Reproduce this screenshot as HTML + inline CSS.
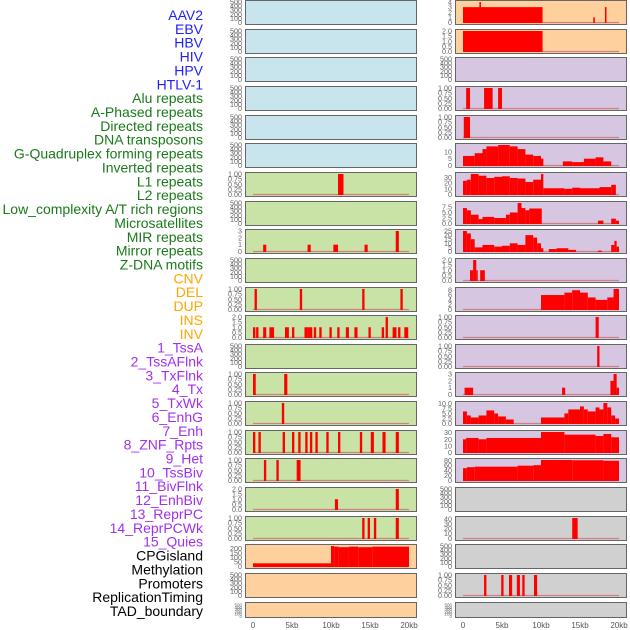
<!DOCTYPE html>
<html><head><meta charset="utf-8"><style>
body{margin:0;background:#fff;width:630px;height:630px;overflow:hidden}
svg{display:block}
text{font-family:"Liberation Sans",sans-serif}
</style></head><body>
<svg id="chart" width="630" height="630" xmlns="http://www.w3.org/2000/svg"></svg>
<script>
const labels=["AAV2","EBV","HBV","HIV","HPV","HTLV-1","Alu repeats","A-Phased repeats","Directed repeats","DNA transposons","G-Quadruplex forming repeats","Inverted repeats","L1 repeats","L2 repeats","Low_complexity A/T rich regions","Microsatellites","MIR repeats","Mirror repeats","Z-DNA motifs","CNV","DEL","DUP","INS","INV","1_TssA","2_TssAFlnk","3_TxFlnk","4_Tx","5_TxWk","6_EnhG","7_Enh","8_ZNF_Rpts","9_Het","10_TssBiv","11_BivFlnk","12_EnhBiv","13_ReprPC","14_ReprPCWk","15_Quies","CPGisland","Methylation","Promoters","ReplicationTiming","TAD_boundary"];
const labelGroups=[6,13,5,15,5];
const groupColors=["#1f1fff","#1a7a1a","#ffa500","#a030f0","#000000"];
const E=[0,100,200,300,400,500];
const P=[0,0.25,0.5,0.75,1];
const leftTicks=[E,E,E,E,E,E,P,E,[0,1,2,3],E,P,[0,0.5,1,1.5,2],E,P,P,P,P,[0,0.5,1,1.5,2],P,[0,50,100,150,200],E,E];
const leftBars=[[],[],[],[],[],[],
[[10.9,11.6,1]],[],
[[1.3,1.7,1],[7.0,7.4,1],[10.3,10.9,1],[14.3,14.7,1],[18.3,18.7,3]],[],
[[0.2,0.5,1],[6.0,6.3,1],[14.0,14.3,1],[18.9,19.2,1]],
[[0.0,0.3,1],[0.4,0.7,1],[1.3,1.7,1],[2.1,2.7,1],[4.1,4.6,1],[5.0,5.3,1],[6.6,7.0,1],[7.0,7.3,1],[7.3,7.6,1],[7.8,8.1,1],[8.5,8.8,1],[9.8,10.1,1],[10.8,11.1,1],[11.9,12.3,1],[13.0,13.4,1],[14.8,15.1,1],[16.5,16.8,1],[17.0,17.3,2],[17.9,18.4,1],[18.6,18.9,1],[19.4,19.9,1]],
[],
[[0.0,0.35,1],[4.0,4.4,1]],
[[3.7,4.0,1]],
[[0.0,0.3,1],[0.7,1.0,1],[3.8,4.1,1],[5.0,5.3,1],[5.8,6.1,1],[6.7,7.0,1],[7.3,7.6,1],[8.0,8.3,1],[9.4,9.7,1],[10.9,11.2,1],[13.7,14.0,1],[15.1,15.5,1],[16.6,17.0,1],[18.3,18.7,1]],
[[1.4,1.7,1],[3.0,3.3,1],[5.6,6.1,1]],
[[10.5,10.9,1],[18.3,18.7,2]],
[[14.0,14.3,1],[14.7,15.0,1],[15.5,15.8,1],[18.3,18.7,1]],
[[0,10,35],[10,10.4,225],[10.4,11,218],[11,12.3,212],[12.3,13.5,218],[13.5,15.3,212],[15.3,20,218]],
[],[]];
const rightTicks=[[0,1,2,3,4],[0,0.5,1,1.5,2],E,P,P,[0,5,10],[0,10,20,30],[0,2.5,5,7.5],[0,5,10,15,20,25],[0,0.5,1,1.5,2],[0,2,4,6,8],P,P,[0,1,2,3],[0,2.5,5,7.5,10],[0,10,20,30],[0,20,40,60,80],E,[0,10,20,30,40],E,P,E];
const rightBars=[
[[0,10.2,3],[2.1,2.3,4],[16.7,16.9,1],[18.2,18.4,3]],
[[0,10.2,2]],
[],
[[0.4,0.9,1],[2.7,3.8,1],[4.5,5.0,1]],
[[0.1,0.9,1]],
[[0,1.5,7],[1.5,2.5,9],[2.5,3,12],[3,4.5,14],[4.5,6,15],[6,7,14],[7,8,12],[8,9,8],[9,10,7],[10,10.3,5],[12.8,14,3],[14,15.5,2.5],[15.5,17,5],[17,18,6],[18,19,3]],
[[0,0.5,24],[0.5,1,26],[1,2,36],[2,3,33],[3,4,29],[4,5,31],[5,6,32],[6,7,29],[7,8,28],[8,9,22],[9,10,26],[10,10.3,36],[10.3,13,11],[13,14,10],[14,15,12],[15,17.5,11],[17.5,19,13],[19,19.6,17]],
[[0,0.5,7],[0.5,1,6],[1,2,4],[2,2.5,2],[2.5,4,3],[4,5.5,2.5],[5.5,6,4],[6,7,5],[7,7.5,9.3],[7.5,8,7],[8,8.5,6],[8.5,10.1,6.8],[17.3,18,1.3],[19,19.6,2.2],[19.6,20,1.3]],
[[0,0.5,25],[0.5,1,22],[1,1.5,15],[1.5,2.5,5],[2.5,4,8],[4,5,6],[5,6,7],[6,7,10],[7,8,8],[8,9,20],[9,9.5,17],[9.5,10,10],[10,10.3,4],[11,12,3],[12,13.5,4],[13.5,14.5,2],[17.3,17.8,1],[19,19.4,8],[19.4,19.7,13],[19.7,20,6]],
[[0.9,1.3,1],[1.3,1.7,2],[1.7,1.8,1],[2.2,2.8,1]],
[[10,13,6],[13,14,7],[14,15,8],[15,16,7],[16,17,5],[17,18.5,4],[18.5,19.3,5],[19.3,20,8.5]],
[[17.0,17.4,1]],
[[17.2,17.5,1]],
[[0.2,1.3,1],[12.7,13.1,1],[18.9,19.3,2],[19.3,19.7,3],[19.7,20,1]],
[[0,0.5,6],[0.5,1,4],[1,2,3],[2,3,4],[3,4,6.5],[4,4.5,5],[4.5,5.5,3.5],[5.5,6.5,2],[10,13,3],[13,13.5,5],[13.5,15,7],[15,15.5,8.5],[15.5,16,7],[16,17,6],[17,17.5,8],[17.5,18,7],[18,18.5,10.2],[18.5,19,8],[19,19.5,4],[19.5,20,2.5]],
[[0,0.4,20],[0.4,2,22],[2,3,20],[3,10,22],[10,13,31],[13,17,27],[17,18,25],[18,19,28],[19,20,23]],
[[0,0.5,50],[0.5,1.5,54],[1.5,7,56],[7,9,60],[9,10,62],[10,14,83],[14,18,82],[18,20,80]],
[],
[[14.0,14.7,42]],
[],
[[2.7,3.0,1],[4.9,5.2,1],[5.9,6.3,1],[6.9,7.3,1],[7.6,7.9,1],[9.1,9.5,1]],
[]];
const xTicks=[0,5,10,15,20];
const xTickLabels=["0","5kb","10kb","15kb","20kb"];
const leftColors=[];
for(let i=0;i<22;i++)leftColors.push(i<6?"#c8e4ec":(i<19?"#c9e2a5":"#fed09e"));
const rightColors=[];
for(let i=0;i<22;i++)rightColors.push(i<2?"#fed09e":(i<17?"#d6c6e2":"#d0d0d0"));

const svg=document.getElementById('chart');
const NS="http://www.w3.org/2000/svg";
function mk(tag,attrs,parent){const e=document.createElementNS(NS,tag);for(const k in attrs)e.setAttribute(k,attrs[k]);(parent||svg).appendChild(e);return e;}

let li=0;
labelGroups.forEach((n,g)=>{for(let j=0;j<n;j++){
 const t=mk('text',{x:203,y:15+li*13.86+5,'text-anchor':'end','font-size':'14',fill:groupColors[g]});
 t.textContent=labels[li];
 
 
 li++;}});

function fmt(v,ticks){const dec=ticks.some(t=>t%1!==0&&Math.abs(t*4-Math.round(t*4))<1e-9&&(t*2)%1!==0)?2:(ticks.some(t=>t%1!==0)?1:0);return v.toFixed(dec);}

function drawPanel(px,row,color,ticks,bars,side){
 const top=Math.round(row*28.65);
 const h=row===21?15:24;
 const w=171;
 const g=mk('g',{});
 
 
 mk('rect',{x:px+1,y:top+1,width:w,height:h,fill:'#bbb'},g);
 mk('rect',{x:px+0.5,y:top+0.5,width:w,height:h,fill:color,stroke:'#666','stroke-width':1},g);
 const bottom=top+h-1.5, ptop=top+2;
 let ymax=ticks[ticks.length-1];
 bars.forEach(b=>{if(b[2]>ymax)ymax=b[2];});
 const xs=k=>px+8+k*7.8;
 const ys=v=>bottom-(v/ymax)*(bottom-ptop);
 const fs=row===21?4.5:7.2;
 ticks.forEach(t=>{
  const tl=mk('text',{x:px-3,y:ys(t)+2.5,'text-anchor':'end','font-size':fs,fill:'#666'},g);
  tl.textContent=fmt(t,ticks);
  
  
 });
 if(bars.length){
  const base=mk('line',{x1:xs(0),x2:xs(20),y1:bottom,y2:bottom,stroke:'#d08080','stroke-width':1.2},g);
  
  
 }
 bars.forEach(b=>{
  const r=mk('rect',{x:xs(b[0]),y:ys(b[2]),width:Math.max(1.5,xs(b[1])-xs(b[0])),height:bottom-ys(b[2])+0.5,fill:'#ff0000'},g);
  
  
 });
}
for(let r=0;r<22;r++){
 drawPanel(245,r,leftColors[r],leftTicks[r],leftBars[r],'left');
 drawPanel(455,r,rightColors[r],rightTicks[r],rightBars[r],'right');
}
[245,455].forEach((px,si)=>{
 xTicks.forEach((k,i)=>{
  const t=mk('text',{x:px+8+k*7.8,y:628,'text-anchor':'middle','font-size':'8',fill:'#555'});
  t.textContent=xTickLabels[i];
  
  
 });
});
</script>
</body></html>
